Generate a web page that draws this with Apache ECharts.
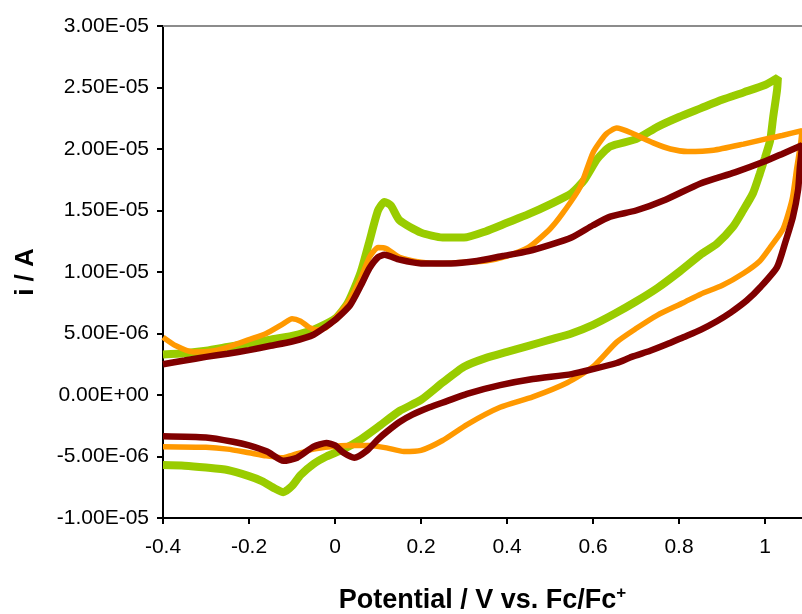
<!DOCTYPE html>
<html>
<head>
<meta charset="utf-8">
<script src="https://cdn.jsdelivr.net/npm/echarts@6/dist/echarts.min.js"></script>
<style>
html,body{margin:0;padding:0;background:#fff;}
#chart{width:802px;height:614px;}
</style>
</head>
<body>
<div id="chart"></div>
<script>
// Potential (V vs Fc/Fc+) and current (µA)
const xTicks = [-0.4, -0.2, 0, 0.2, 0.4, 0.6, 0.8, 1];
const yTicksUA = [-10, -5, 0, 5, 10, 15, 20, 25, 30];

const greenCurve = [
  [-0.4, 3.3], [-0.35, 3.4], [-0.3, 3.6], [-0.25, 3.9], [-0.2, 4.2], [-0.15, 4.5], [-0.1, 4.8],
  [-0.05, 5.3], [0, 6.2], [0.03, 7.5], [0.06, 10.0], [0.08, 12.5], [0.1, 15.0], [0.115, 15.7],
  [0.13, 15.4], [0.15, 14.2], [0.2, 13.2], [0.25, 12.8], [0.3, 12.8], [0.35, 13.3], [0.4, 14.0],
  [0.45, 14.7], [0.5, 15.5], [0.55, 16.4], [0.58, 17.5], [0.61, 19.2], [0.64, 20.2], [0.7, 20.8],
  [0.75, 21.8], [0.8, 22.6], [0.85, 23.3], [0.9, 24.0], [0.95, 24.6], [1.0, 25.2], [1.03, 25.8],
  [1.028, 24.8], [1.019, 22.6], [1.012, 20.7], [1.0, 19.3], [0.988, 18.0], [0.972, 16.4],
  [0.949, 15.0], [0.926, 13.7], [0.888, 12.3], [0.85, 11.4], [0.8, 10.0], [0.75, 8.7], [0.7, 7.6],
  [0.65, 6.6], [0.6, 5.7], [0.55, 5.0], [0.5, 4.5], [0.45, 4.0], [0.4, 3.5], [0.35, 3.0],
  [0.3, 2.3], [0.25, 1.0], [0.2, -0.4], [0.15, -1.3], [0.1, -2.6], [0.06, -3.6], [0.02, -4.4],
  [-0.02, -5.0], [-0.05, -5.6], [-0.08, -6.5], [-0.1, -7.4], [-0.12, -7.9], [-0.14, -7.6],
  [-0.17, -7.0], [-0.2, -6.6], [-0.25, -6.1], [-0.3, -5.9], [-0.35, -5.75], [-0.4, -5.7]
];

const orangeCurve = [
  [-0.4, 4.7], [-0.37, 4.0], [-0.33, 3.5], [-0.28, 3.6], [-0.24, 4.0], [-0.2, 4.5], [-0.16, 5.0],
  [-0.12, 5.8], [-0.1, 6.2], [-0.08, 6.0], [-0.06, 5.5], [-0.04, 5.3], [-0.02, 5.5], [0, 6.2],
  [0.03, 7.5], [0.06, 9.5], [0.08, 11.2], [0.1, 12.0], [0.12, 11.9], [0.15, 11.2], [0.2, 10.8],
  [0.25, 10.7], [0.3, 10.8], [0.35, 10.9], [0.4, 11.3], [0.45, 12.0], [0.5, 13.5], [0.53, 14.8],
  [0.57, 16.9], [0.6, 19.7], [0.63, 21.2], [0.655, 21.7], [0.69, 21.3], [0.74, 20.5], [0.78, 20.0],
  [0.82, 19.8], [0.88, 19.9], [0.95, 20.4], [1.0, 20.8], [1.04, 21.1], [1.086, 21.5],
  [1.083, 20.5], [1.074, 18.5], [1.063, 15.9], [1.042, 13.5], [1.012, 12.0], [0.988, 10.9],
  [0.95, 9.9], [0.9, 8.9], [0.85, 8.2], [0.81, 7.5], [0.75, 6.5], [0.7, 5.4], [0.655, 4.3],
  [0.6, 2.3], [0.54, 1.0], [0.46, -0.15], [0.384, -1.0], [0.307, -2.4], [0.25, -3.7], [0.2, -4.5],
  [0.16, -4.6], [0.12, -4.3], [0.08, -4.1], [0.03, -4.1], [-0.01, -4.2], [-0.05, -4.4], [-0.1, -4.9],
  [-0.12, -5.1], [-0.16, -4.95], [-0.2, -4.7], [-0.25, -4.4], [-0.3, -4.25], [-0.4, -4.2]
];

const darkRedCurve = [
  [-0.4, 2.5], [-0.35, 2.8], [-0.3, 3.1], [-0.25, 3.35], [-0.2, 3.65], [-0.15, 4.0], [-0.1, 4.35],
  [-0.05, 4.9], [0, 6.1], [0.035, 7.3], [0.06, 8.9], [0.08, 10.3], [0.1, 11.2], [0.115, 11.4],
  [0.15, 11.0], [0.2, 10.7], [0.27, 10.7], [0.33, 10.9], [0.39, 11.3], [0.45, 11.7], [0.5, 12.2],
  [0.55, 12.8], [0.6, 13.8], [0.64, 14.5], [0.7, 15.0], [0.77, 15.9], [0.85, 17.2], [0.93, 18.1],
  [1.0, 19.0], [1.04, 19.6], [1.086, 20.3],
  [1.084, 19.5], [1.081, 18.5], [1.077, 16.7], [1.065, 14.5], [1.047, 12.4], [1.028, 10.4],
  [0.99, 8.8], [0.958, 7.7], [0.92, 6.7], [0.888, 6.0], [0.85, 5.3], [0.81, 4.7], [0.77, 4.1],
  [0.733, 3.6], [0.69, 3.1], [0.655, 2.6], [0.6, 2.1], [0.55, 1.7], [0.46, 1.3], [0.384, 0.8],
  [0.307, 0.1], [0.26, -0.5], [0.22, -1.0], [0.18, -1.6], [0.15, -2.2], [0.12, -3.0], [0.1, -3.6],
  [0.075, -4.5], [0.045, -5.1], [0.02, -4.7], [0, -4.1], [-0.02, -3.9], [-0.05, -4.2], [-0.088, -5.1],
  [-0.12, -5.35], [-0.158, -4.6], [-0.2, -4.1], [-0.237, -3.8], [-0.3, -3.45], [-0.4, -3.35]
];

function excelSci(vUA) {
  const a = vUA * 1e-6;
  if (Math.abs(a) < 1e-15) return '0.00E+00';
  let e = Math.floor(Math.log10(Math.abs(a)));
  let m = a / Math.pow(10, e);
  if (Math.abs(m) >= 9.995) { m /= 10; e++; }
  return m.toFixed(2) + 'E' + (e < 0 ? '-' : '+') + String(Math.abs(e)).padStart(2, '0');
}

const FONT = "'Liberation Sans', Arial, sans-serif";
const chart = echarts.init(document.getElementById('chart'), null, {renderer: 'canvas'});
const mk = (data, color, w) => ({
  type: 'line', data: data, showSymbol: false, smooth: 0.2,
  lineStyle: {color: color, width: w}, itemStyle: {color: color}, z: 2
});
chart.setOption({
  animation: false,
  backgroundColor: '#fff',
  grid: {left: 163, top: 26, right: 0, bottom: 96, containLabel: false, outerBoundsMode: 'none'},
  xAxis: [{
    type: 'value', min: -0.4, max: 1.086, interval: 0.2, position: 'bottom',
    name: 'Potential / V vs. Fc/Fc{sup|+}', nameLocation: 'middle', nameGap: 67,
    nameTextStyle: {
      fontFamily: FONT, fontSize: 27, fontWeight: 'bold', color: '#000',
      rich: {sup: {fontFamily: FONT, fontSize: 17, fontWeight: 'bold', color: '#000', verticalAlign: 'top', padding: [0, 0, 14, 0]}}
    },
    axisLine: {show: true, onZero: false, lineStyle: {color: '#000', width: 2}},
    axisTick: {show: true, inside: false, length: 6, lineStyle: {color: '#000', width: 2},
      customValues: xTicks},
    axisLabel: {fontFamily: FONT, fontSize: 21, color: '#000', margin: 19,
      customValues: xTicks,
      formatter: v => String(Math.round(v * 10) / 10)},
    splitLine: {show: false}
  }, {
    type: 'value', min: -0.4, max: 1.086, position: 'top',
    axisLine: {show: true, onZero: false, lineStyle: {color: '#8c8c8c', width: 2}},
    axisTick: {show: false}, axisLabel: {show: false}, splitLine: {show: false}
  }],
  yAxis: {
    type: 'value', min: -10, max: 30, interval: 5,
    name: 'i / A', nameLocation: 'middle', nameGap: 124, nameRotate: 90,
    nameTextStyle: {fontFamily: FONT, fontSize: 26, fontWeight: 'bold', color: '#000'},
    axisLine: {show: true, onZero: false, lineStyle: {color: '#000', width: 2}},
    axisTick: {show: true, inside: false, length: 6, lineStyle: {color: '#000', width: 2}},
    axisLabel: {fontFamily: FONT, fontSize: 21, color: '#000', margin: 14, formatter: excelSci},
    splitLine: {show: false}
  },
  series: [
    mk(greenCurve, '#99CC00', 8),
    mk(orangeCurve, '#FF9900', 5.5),
    mk(darkRedCurve, '#800000', 6.5)
  ]
});
</script>
</body>
</html>
